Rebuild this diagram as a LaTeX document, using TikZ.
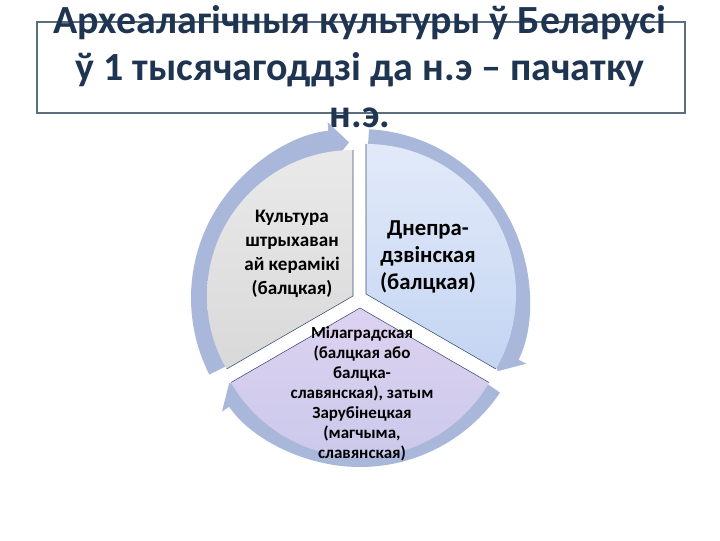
\documentclass[tikz,border=0pt]{standalone}
\usepackage{fontspec}
\setmainfont{Carlito}
\usetikzlibrary{arrows.meta}

\definecolor{ringblue}{HTML}{A9B8DA}
\definecolor{titleink}{HTML}{1E3450}
\definecolor{frameline}{HTML}{5B6E80}
\definecolor{secedge}{HTML}{3A4F74}

\tikzset{
	ringarc/.style={draw=ringblue, line width=0.65cm, -{Triangle[length=0.5cm,width=1.05cm]}},
	sectxt/.style={align=center, text=black, font=\bfseries#1},
	secline/.style={draw=secedge, line width=0.4pt}
}

\begin{document}
\begin{tikzpicture}[x=0.025cm, y=0.025cm]
	\useasboundingbox (0,0) rectangle (720,540);

	% title frame and text
	\draw[frameline, line width=1.4pt] (37,427) rectangle (685,518);
	\node[anchor=base, align=center, text=titleink, font=\fontsize{28.4}{33.5}\selectfont\bfseries] (title) at (360,412)
		{Археалагічныя культуры ў Беларусі\\ў 1 тысячагоддзі да н.э – пачатку\\н.э.};

	% centre of the cycle and the three vertices
	\coordinate (c) at (360,242);
	\coordinate (vl) at (353,244);
	\coordinate (vr) at (366,246);
	\coordinate (vb) at (360,232);

	% ring of arrows
	\draw[ringarc] (c) ++(207:156) arc[start angle=207, end angle=94, radius=156];
	\draw[ringarc] (c) ++(87:156) arc[start angle=87, end angle=-28, radius=156];
	\draw[ringarc] (c) ++(-34:156) arc[start angle=-34, end angle=-147, radius=156];

	% left sector
	\shade[top color=gray!17, bottom color=gray!30] (vl) -- ++(90:146) arc[start angle=90, end angle=210, radius=146] -- cycle;
		\draw[secline] (vl) ++(90:146) -- (vl) -- ++(210:146);

	% right sector
	\shade[top color={rgb,255:red,226;green,234;blue,249}, bottom color={rgb,255:red,196;green,213;blue,242}] (vr) -- ++(90:150) arc[start angle=90, end angle=-30, radius=150] -- cycle;
		\draw[secline] (vr) ++(90:150) -- (vr) -- ++(-30:150);

	% bottom sector
	\shade[top color={rgb,255:red,222;green,210;blue,240}, bottom color={rgb,255:red,200;green,200;blue,234}] (vb) -- ++(210:149) arc[start angle=210, end angle=330, radius=149] -- cycle;
		\draw[secline] (vb) ++(210:149) -- (vb) -- ++(330:149);

	% labels
	\node[sectxt=\fontsize{13.6}{17}\selectfont] (kult) at (292,286)
		{Культура\\штрыхаван\\ай керамікі\\(балцкая)};
	\node[sectxt=\fontsize{16.2}{19.4}\selectfont] (dnep) at (428,283)
		{Днепра-\\дзвінская\\(балцкая)};
	\node[sectxt=\fontsize{12.1}{14.2}\selectfont] (milag) at (362,146)
		{Мілаградская\\(балцкая або\\балцка-\\славянская), затым\\Зарубінецкая\\(магчыма,\\славянская)};
\end{tikzpicture}
\end{document}
